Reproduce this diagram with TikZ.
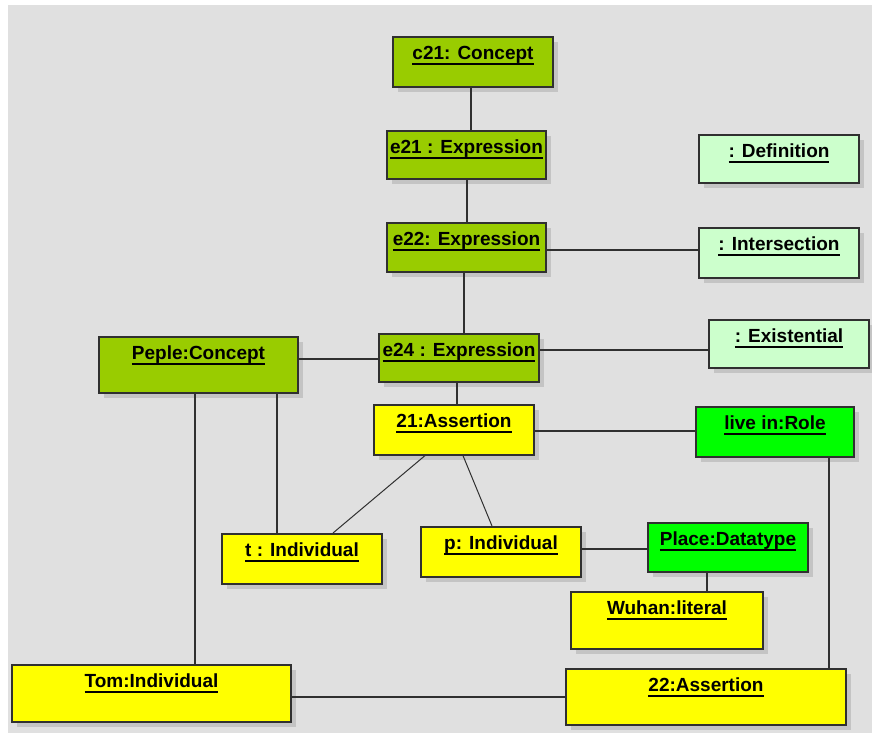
\documentclass[tikz,border=0pt]{standalone}
\usepackage{fontspec}
\setmainfont{Liberation Sans}
\usetikzlibrary{shadows,backgrounds}

\definecolor{canvas}{HTML}{E0E0E0}
\definecolor{olive}{HTML}{99CC00}
\definecolor{mint}{HTML}{CCFFCC}
\definecolor{lemon}{HTML}{FFFF00}
\definecolor{lime}{HTML}{00FF00}
\definecolor{edge}{HTML}{303030}
\definecolor{shade}{HTML}{C4C4C4}

% underlined object label: rule sits a fixed distance below the baseline
\newsavebox\ulbox
\newcommand\ultext[1]{\sbox\ulbox{#1}\rlap{\rule[-5.6pt]{\wd\ulbox}{2.1pt}}\usebox\ulbox}

\tikzset{
  obj/.style={draw=edge, line width=1.6pt, inner xsep=0pt, inner ysep=0pt,
    anchor=north, text height=23pt,
    font=\bfseries\fontsize{19}{22}\selectfont,
    drop shadow={shadow xshift=5pt, shadow yshift=-5pt, fill=shade, opacity=1}},
  dims/.style 2 args={minimum width=#1pt, text depth=#2pt},
  link/.style={draw=edge, line width=1.4pt},
  thinlink/.style={draw=edge, line width=1pt},
}

\begin{document}
\begin{tikzpicture}[x=1pt, y=-1pt]
  \useasboundingbox (0,0) rectangle (872,733);

  % objects
  \node[obj, fill=olive, dims={160}{27}] (c21)   at (473,36)   {\ultext{c21: Concept}};
  \node[obj, fill=olive, dims={159}{25}] (e21)   at (466.5,130) {\ultext{e21 : Expression}};
  \node[obj, fill=olive, dims={159}{26}] (e22)   at (466.5,222) {\ultext{e22: Expression}};
  \node[obj, fill=olive, dims={160}{25}] (e24)   at (459,333)  {\ultext{e24 : Expression}};
  \node[obj, fill=mint,  dims={160}{25}] (def)   at (779,134)  {\ultext{: Definition}};
  \node[obj, fill=mint,  dims={160}{27}] (inter) at (779,227)  {\ultext{: Intersection}};
  \node[obj, fill=mint,  dims={160}{25}] (exist) at (789,319)  {\ultext{: Existential}};
  \node[obj, fill=olive, dims={199}{33}] (peple) at (198.5,336) {\ultext{Peple:Concept}};
  \node[obj, fill=lemon, dims={160}{27}] (a21)   at (454,404)  {\ultext{21:Assertion}};
  \node[obj, fill=lime,  dims={158}{27}] (live)  at (775,406)  {\ultext{live in:Role}};
  \node[obj, fill=lemon, dims={160}{27}] (tind)  at (302,533)  {\ultext{t : Individual}};
  \node[obj, fill=lemon, dims={160}{27}] (pind)  at (501,526)  {\ultext{p: Individual}};
  \node[obj, fill=lime,  dims={160}{26}] (place) at (728,522)  {\ultext{Place:Datatype}};
  \node[obj, fill=lemon, dims={192}{34}] (wuhan) at (667,591)  {\ultext{Wuhan:literal}};
  \node[obj, fill=lemon, dims={279}{34}] (tom)   at (151.5,664) {\ultext{Tom:Individual}};
  \node[obj, fill=lemon, dims={280}{33}] (a22)   at (706,668)  {\ultext{22:Assertion}};

  % canvas
  \begin{scope}[on background layer]
    \fill[white] (0,0) rectangle (872,733);
    \fill[canvas] (8,5) rectangle (872,733);
  \end{scope}

  % links, drawn over the shadows and meeting the box borders
  \draw[link] ([xshift=-2pt]c21.south) -- ([xshift=4.5pt]e21.north);
  \draw[link] ([xshift=0.5pt]e21.south) -- ([xshift=0.5pt]e22.north);
  \draw[link] ([xshift=-2.5pt]e22.south) -- ([xshift=5pt]e24.north);
  \draw[link] ([yshift=-2.5pt]e22.east) -- ([yshift=3pt]inter.west);
  \draw[link] ([yshift=8pt]e24.east) -- ([yshift=-6pt]exist.west);
  \draw[link] ([yshift=6pt]peple.east) -- ([yshift=-1pt]e24.west);
  \draw[link] ([xshift=-2pt]e24.south) -- ([xshift=3pt]a21.north);
  \draw[link] ([yshift=-1pt]a21.east) -- ([yshift=1pt]live.west);
  \draw[thinlink] ([xshift=-29pt]a21.south) -- ([xshift=31pt]tind.north);
  \draw[thinlink] ([xshift=9pt]a21.south) -- ([xshift=-9pt]pind.north);
  \draw[link] ([xshift=78.5pt]peple.south) -- ([xshift=-25pt]tind.north);
  \draw[link] ([xshift=-3.5pt]peple.south) -- ([xshift=43.5pt]tom.north);
  \draw[link] ([yshift=3pt]pind.east) -- ([yshift=-1.5pt]place.west);
  \draw[link] ([xshift=-21pt]place.south) -- ([xshift=40pt]wuhan.north);
  \draw[link] ([xshift=54pt]live.south) -- ([xshift=123pt]a22.north);
  \draw[link] ([yshift=-3.5pt]tom.east) -- (a22.west);
\end{tikzpicture}
\end{document}
